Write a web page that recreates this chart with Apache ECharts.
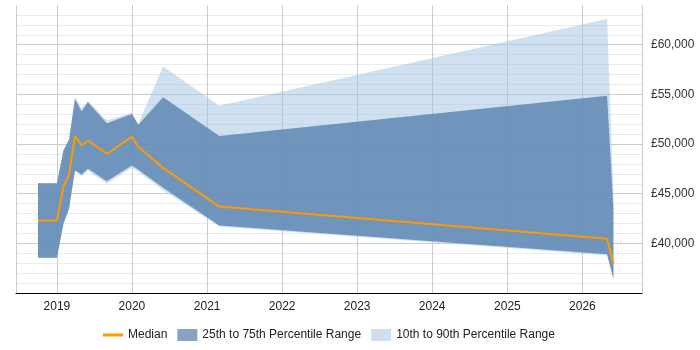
<!DOCTYPE html>
<html>
<head>
<meta charset="utf-8">
<script src="https://cdn.jsdelivr.net/npm/echarts@6/dist/echarts.min.js"></script>
<style>
  html, body { margin: 0; padding: 0; background: #fff; }
  #main { width: 700px; height: 350px; }
</style>
</head>
<body>
<div id="main"></div>
<script>
// data
var dates  = ['2018-10-01','2019-01-01','2019-02-02','2019-03-01','2019-03-30','2019-05-01','2019-06-01','2019-09-01','2020-01-01','2020-02-01','2020-06-01','2021-03-01','2026-05-01','2026-06-01'];
var median = [42300, 42300, 45700, 46900, 50850, 49850, 50350, 49000, 50750, 49700, 47600, 43700, 40470, 37950];
var p25    = [38560, 38560, 41980, 43490, 47340, 46930, 47500, 46260, 47840, 47400, 45600, 41800, 38890, 36450];
var p75    = [46060, 46060, 49350, 50420, 54540, 53300, 54200, 52090, 53030, 51930, 54700, 50800, 54870, 43500];
var p10    = [38560, 38560, 41980, 43490, 47300, 46750, 47300, 46000, 47610, 47200, 45350, 41700, 38800, 36300];
var p90    = [46060, 46060, 49350, 50420, 54770, 53600, 54370, 52360, 53160, 52030, 57800, 53850, 62580, 45000];
var yLabels = [40000, 45000, 50000, 55000, 60000];

var font = 'Liberation Sans, Arial, sans-serif';

function pairs(vals) {
    return dates.map(function (d, i) { return [d, vals[i]]; });
}
function diffs(hi, lo) {
    return dates.map(function (d, i) { return [d, hi[i] - lo[i]]; });
}

var chart = echarts.init(document.getElementById('main'));
chart.setOption({
    animation: false,
    textStyle: { fontFamily: font },
    grid: { left: 16, right: 58, top: 5, bottom: 57 },
    legend: {
        bottom: 4,
        left: 98,
        itemGap: 10,
        itemWidth: 20,
        itemHeight: 12,
        textStyle: { fontSize: 12, color: '#222', fontFamily: font },
        data: [
            { name: 'Median', icon: 'path://M0,5 L20,5 L20,8 L0,8 Z', itemStyle: { color: '#ff9900' } },
            { name: '25th to 75th Percentile Range', icon: 'rect', itemStyle: { color: '#86a3c4' } },
            { name: '10th to 90th Percentile Range', icon: 'rect', itemStyle: { color: '#cfdfee' } }
        ]
    },
    xAxis: {
        type: 'time',
        min: '2018-06-16',
        max: '2026-10-18',
        splitNumber: 8,
        minInterval: 365 * 24 * 3600 * 1000,
        axisLine: { lineStyle: { color: '#000', width: 1 } },
        axisTick: { show: false },
        axisLabel: {
            color: '#222',
            fontSize: 12,
            margin: 8,
            formatter: function (v) { return String(new Date(v).getFullYear()); }
        },
        splitLine: { show: true, lineStyle: { color: '#cccccc', width: 1 } }
    },
    yAxis: {
        type: 'value',
        position: 'right',
        min: 35000,
        max: 64000,
        interval: 1000,
        axisLine: { show: false },
        axisTick: { show: false },
        axisLabel: {
            color: '#333',
            fontSize: 12,
            margin: 9,
            formatter: function (v) {
                return yLabels.indexOf(v) >= 0 ? '£' + v.toLocaleString('en-GB') : '';
            }
        },
        splitLine: {
            show: true,
            showMaxLine: false,
            lineStyle: { color: ['#cccccc', '#ebebeb', '#ebebeb', '#ebebeb', '#ebebeb'], width: 1 }
        }
    },
    series: [
        {
            name: 'p10base', type: 'line', stack: 'p10', data: pairs(p10),
            symbol: 'none', lineStyle: { opacity: 0 }, silent: true
        },
        {
            name: '10th to 90th Percentile Range', type: 'line', stack: 'p10', data: diffs(p90, p10),
            symbol: 'none', lineStyle: { opacity: 0 }, itemStyle: { color: '#cfdfee' },
            areaStyle: { color: 'rgba(160,193,225,0.5)', opacity: 1 }
        },
        {
            name: 'p25base', type: 'line', stack: 'p25', data: pairs(p25),
            symbol: 'none', lineStyle: { opacity: 0 }, silent: true
        },
        {
            name: '25th to 75th Percentile Range', type: 'line', stack: 'p25', data: diffs(p75, p25),
            symbol: 'none', lineStyle: { opacity: 0 }, itemStyle: { color: '#86a3c4' },
            areaStyle: { color: 'rgba(88,131,176,0.8)', opacity: 1 }
        },
        {
            name: 'Median', type: 'line', data: pairs(median),
            symbol: 'none', itemStyle: { color: '#ff9900' },
            lineStyle: { color: '#ff9900', width: 2 }
        }
    ]
});
</script>
</body>
</html>
